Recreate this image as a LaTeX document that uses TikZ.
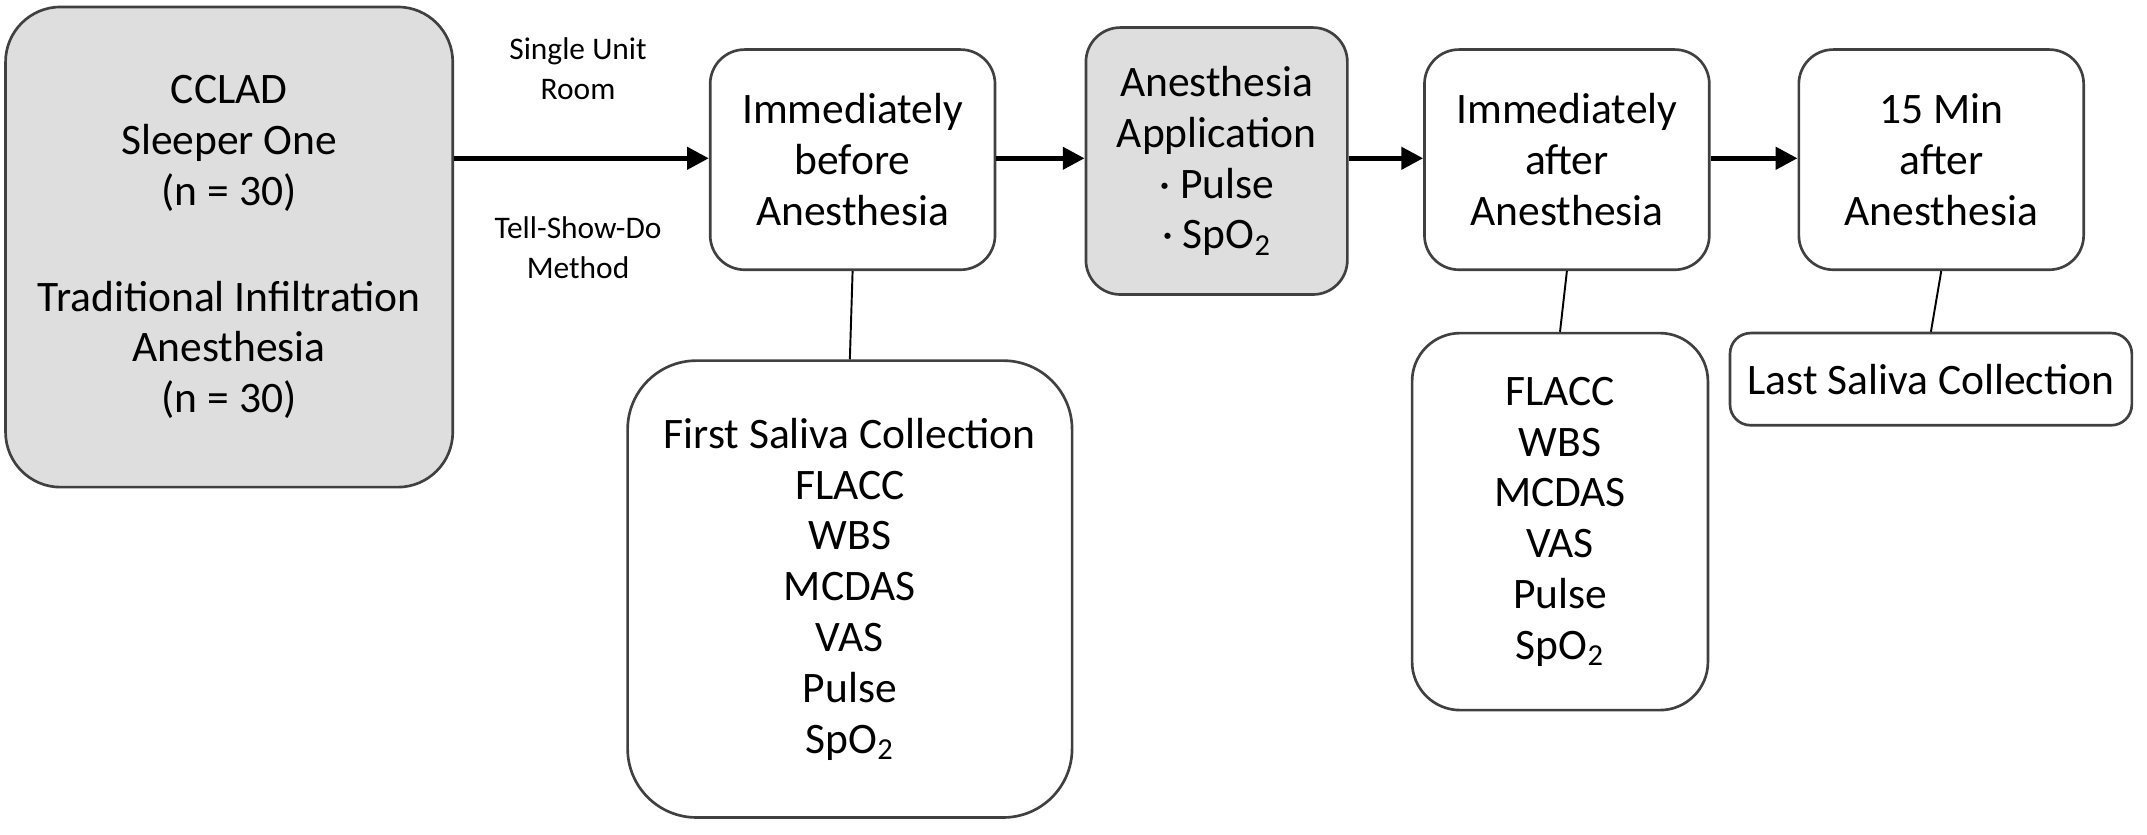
\documentclass[tikz,border=0pt]{standalone}
\usepackage{fontspec}
\setmainfont{Carlito}
\usetikzlibrary{arrows.meta}
\tikzset{
  stagebox/.style={draw=black!75, line width=1.1pt, rounded corners=0.5cm, align=center, font=\fontsize{18}{21}\selectfont, inner sep=0pt},
  grouped/.style={stagebox, fill=black!13},
  flow/.style={-{Triangle[length=9pt,width=9pt]}, line width=2pt},
  tie/.style={line width=0.8pt},
  note/.style={align=center, font=\fontsize{13}{16.5}\selectfont}
}
\begin{document}
\begin{tikzpicture}[x=0.02cm, y=-0.02cm]
  \useasboundingbox (0,0) rectangle (1560,606);
  % groups and stages
  \node[grouped, rounded corners=0.8cm, minimum width=6.5cm, minimum height=6.98cm] (groups) at (166.5,179.5)
    {CCLAD\\Sleeper One\\(n = 30)\\[0.8cm]Traditional Infiltration\\Anesthesia\\(n = 30)};
  \node[stagebox, minimum width=4.14cm, minimum height=3.2cm] (before) at (619.5,116) {Immediately\\before\\Anesthesia};
  \node[grouped, minimum width=3.8cm, minimum height=3.88cm] (apply) at (884,117) {Anesthesia\\Application\\· Pulse\\· SpO\textsubscript{2}};
  \node[stagebox, minimum width=4.14cm, minimum height=3.2cm] (after) at (1138.5,116) {Immediately\\after\\Anesthesia};
  \node[stagebox, minimum width=4.14cm, minimum height=3.2cm] (later) at (1410.5,116) {15 Min\\after\\Anesthesia};
  % measurements
  \node[stagebox, rounded corners=1cm, minimum width=6.46cm, minimum height=6.64cm] (first) at (617.5,428)
    {First Saliva Collection\\FLACC\\WBS\\MCDAS\\VAS\\Pulse\\SpO\textsubscript{2}};
  \node[stagebox, rounded corners=0.7cm, minimum width=4.3cm, minimum height=5.48cm] (second) at (1133.5,379)
    {FLACC\\WBS\\MCDAS\\VAS\\Pulse\\SpO\textsubscript{2}};
  \node[stagebox, rounded corners=0.3cm, minimum width=5.84cm, minimum height=1.34cm] (last) at (1403,275.5) {Last Saliva Collection};
  % labels
  \node[note] (room) at (420,50) {Single Unit\\Room};
  \node[note] (method) at (420,180) {Tell-Show-Do\\Method};
  % connectors
  \draw[flow] (groups.east |- 0,115) -- (before.west |- 0,115);
  \draw[flow] (before.east |- 0,115) -- (apply.west |- 0,115);
  \draw[flow] (apply.east |- 0,115) -- (after.west |- 0,115);
  \draw[flow] (after.east |- 0,115) -- (later.west |- 0,115);
  \draw[tie] (before.south) -- (first.north);
  \draw[tie] (after.south) -- (second.north);
  \draw[tie] (later.south) -- (last.north);
\end{tikzpicture}
\end{document}
